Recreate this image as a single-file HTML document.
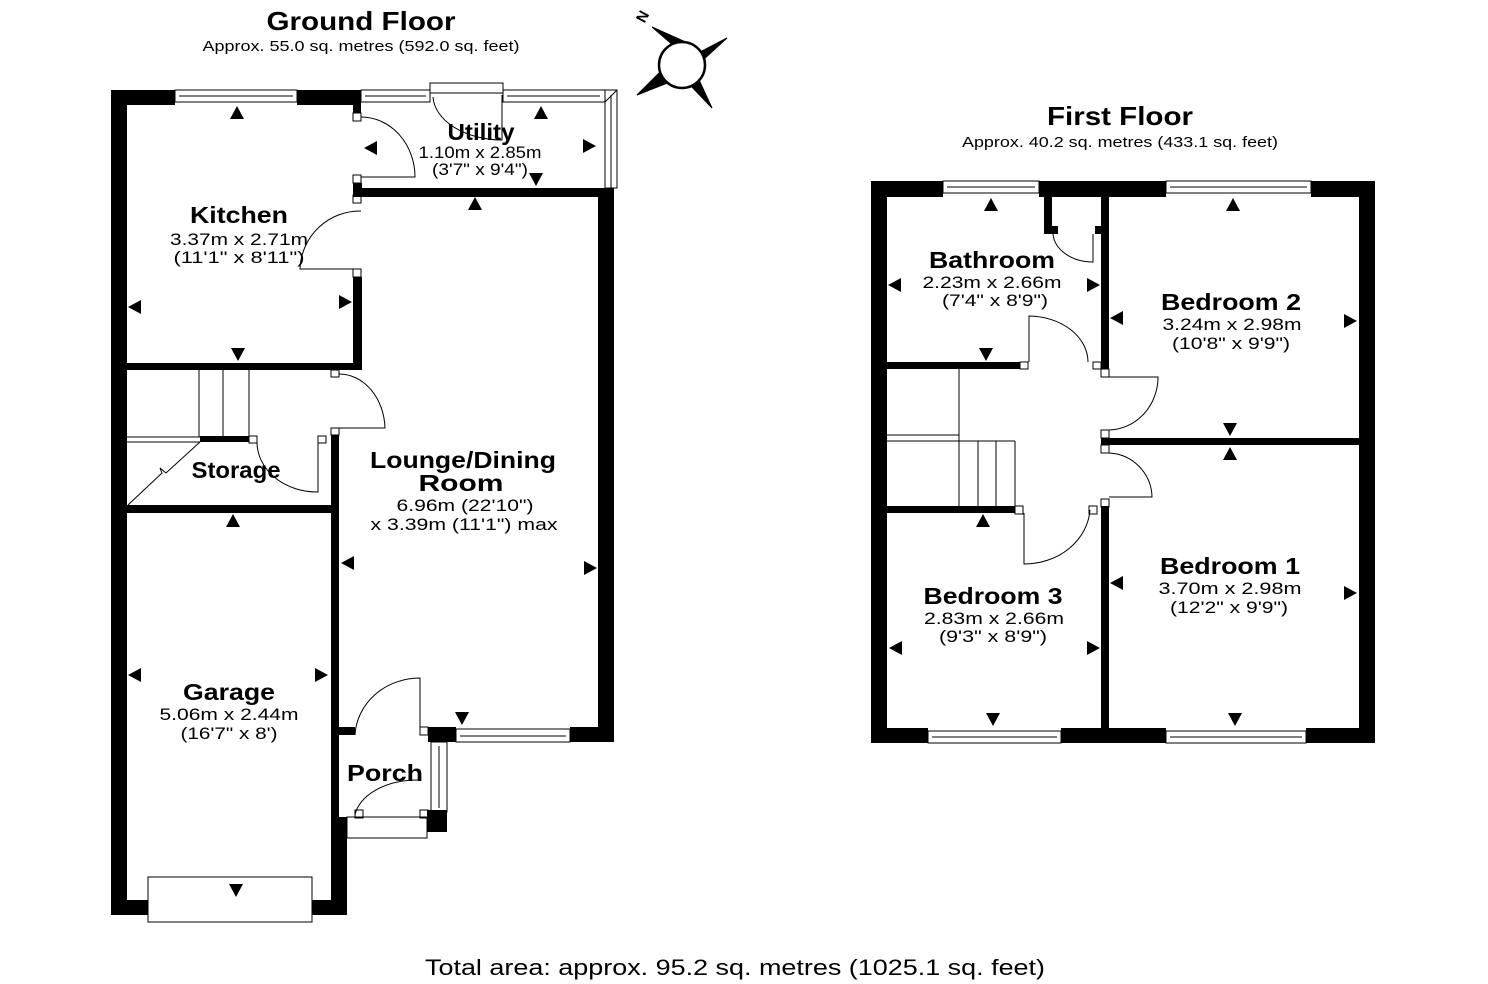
<!DOCTYPE html>
<html><head><meta charset="utf-8"><style>
html,body{margin:0;padding:0;background:#fff;}
svg{display:block;}
text{font-family:"Liberation Sans",Arial,sans-serif;fill:#000;}
.t{font-weight:bold;font-size:23px;}
.s{font-size:16.5px;}
.h{font-weight:bold;font-size:26px;}
.a{font-size:15px;}
</style></head><body>
<svg width="1488" height="984" viewBox="0 0 1488 984" xmlns="http://www.w3.org/2000/svg">
<defs>
<polygon id="tu" points="-7,6 7,6 0,-7" fill="#000"/>
</defs>
<g fill="#000">
<rect x="111" y="90" width="16" height="825"/>
<rect x="111" y="90" width="64" height="15"/>
<rect x="297" y="90" width="64" height="15"/>
<rect x="353" y="105" width="8" height="8"/>
<rect x="353" y="183" width="9" height="12"/>
<rect x="353" y="277" width="9" height="93"/>
<rect x="127" y="363" width="235" height="7"/>
<rect x="353" y="188" width="261" height="9"/>
<rect x="598" y="188" width="16" height="554"/>
<rect x="200" y="436" width="49" height="6"/>
<rect x="331" y="435" width="8" height="300"/>
<rect x="127" y="505" width="212" height="8"/>
<rect x="339" y="817" width="8" height="98"/>
<rect x="331" y="735" width="8" height="180"/>
<rect x="111" y="900" width="37" height="15"/>
<rect x="312" y="900" width="35" height="15"/>
<rect x="428" y="727" width="28" height="15"/>
<rect x="570" y="727" width="44" height="15"/>
<rect x="427" y="810" width="20" height="22"/>
<rect x="339" y="727" width="16" height="8"/>
<rect x="871" y="181" width="16" height="562"/>
<rect x="1359" y="181" width="16" height="562"/>
<rect x="871" y="181" width="72" height="16"/>
<rect x="1039" y="181" width="127" height="16"/>
<rect x="1311" y="181" width="64" height="16"/>
<rect x="871" y="728" width="57" height="15"/>
<rect x="1061" y="728" width="105" height="15"/>
<rect x="1306" y="728" width="69" height="15"/>
<rect x="1044" y="197" width="8" height="37"/>
<rect x="1044" y="226" width="14" height="8"/>
<rect x="1095" y="226" width="7" height="8"/>
<rect x="1101" y="197" width="8" height="172"/>
<rect x="887" y="362" width="133" height="7"/>
<rect x="1101" y="438" width="258" height="7"/>
<rect x="887" y="506" width="128" height="7"/>
<rect x="1101" y="506" width="8" height="222"/>
</g>
<g fill="none" stroke="#000" stroke-width="1">
<rect x="175" y="90" width="122" height="12"/><line x1="179" y1="96" x2="293" y2="96"/>
<rect x="361" y="90" width="69" height="12"/><line x1="365" y1="96" x2="426" y2="96"/>
<rect x="430" y="83" width="73" height="10"/>
<rect x="503" y="90" width="102" height="12"/><line x1="507" y1="96" x2="600" y2="96"/>
<polyline points="605,90 617,90 617,188 605,188 605,102"/>
<line x1="611" y1="95" x2="611" y2="188"/><line x1="605" y1="102" x2="617" y2="90"/>
<rect x="456" y="729" width="114" height="13"/><line x1="460" y1="736" x2="566" y2="736"/>
<rect x="431" y="742" width="16" height="70"/><line x1="439" y1="746" x2="439" y2="808"/>
<rect x="347" y="817" width="80" height="21"/>
<rect x="148" y="877" width="164" height="45"/>
<rect x="353" y="113" width="8" height="8"/><rect x="353" y="175" width="8" height="8"/>
<path d="M361,117 A54,60 0 0 1 415,177 L361,177"/>
<path d="M502,95 L502,140 A70,45 0 0 1 433,97"/>
<rect x="353" y="195" width="8" height="8"/><rect x="353" y="269" width="8" height="8"/>
<path d="M361,211 A60,60 0 0 0 300,269 L361,269"/>
<rect x="331" y="370" width="8" height="7"/><rect x="331" y="428" width="8" height="7"/>
<path d="M339,374 A46,56 0 0 1 385,428 L339,428"/>
<rect x="249" y="436" width="8" height="7"/><rect x="318" y="436" width="8" height="7"/>
<path d="M257,442 A60,50 0 0 0 318,492 L318,442"/>
<line x1="199" y1="370" x2="199" y2="437"/><line x1="223" y1="370" x2="223" y2="437"/><line x1="249" y1="370" x2="249" y2="437"/>
<line x1="127" y1="437" x2="200" y2="437"/><line x1="127" y1="442" x2="200" y2="442"/>
<polyline points="128,505 162,473 160,468 166,473 200,442"/>
<path d="M355,735 A65,60 0 0 1 420,678 L420,735"/>
<rect x="420" y="727" width="8" height="8"/>
<rect x="355" y="810" width="8" height="8"/><rect x="420" y="810" width="8" height="8"/>
<path d="M355,815 A63,40 0 0 1 418,780"/>
<rect x="943" y="181" width="96" height="12"/><line x1="947" y1="187" x2="1035" y2="187"/>
<rect x="1166" y="181" width="145" height="12"/><line x1="1170" y1="187" x2="1307" y2="187"/>
<rect x="928" y="731" width="133" height="12"/><line x1="932" y1="737" x2="1057" y2="737"/>
<rect x="1166" y="731" width="140" height="12"/><line x1="1170" y1="737" x2="1302" y2="737"/>
<path d="M1053,234 A40,30 0 0 0 1093,262 L1093,234"/>
<rect x="1020" y="362" width="8" height="7"/><rect x="1093" y="362" width="8" height="7"/>
<path d="M1029,362 L1029,316 A60,46 0 0 1 1088,362"/>
<rect x="1101" y="369" width="8" height="8"/><rect x="1101" y="430" width="8" height="8"/>
<path d="M1109,377 L1158,377 A50,53 0 0 1 1109,430"/>
<rect x="1101" y="445" width="8" height="8"/><rect x="1101" y="499" width="8" height="8"/>
<path d="M1109,453 A45,45 0 0 1 1152,497 L1109,497"/>
<rect x="1015" y="506" width="8" height="8"/><rect x="1089" y="506" width="8" height="8"/>
<path d="M1024,513 L1024,564 A66,58 0 0 0 1090,510"/>
<line x1="959" y1="369" x2="959" y2="506"/>
<line x1="887" y1="435" x2="959" y2="435"/><line x1="887" y1="441" x2="1015" y2="441"/>
<line x1="978" y1="441" x2="978" y2="506"/><line x1="996" y1="441" x2="996" y2="506"/><line x1="1015" y1="441" x2="1015" y2="506"/>
</g>
<use href="#tu" transform="translate(237,113)"/>
<use href="#tu" transform="translate(238,354) rotate(180)"/>
<use href="#tu" transform="translate(135,307) rotate(-90)"/>
<use href="#tu" transform="translate(345,302) rotate(90)"/>
<use href="#tu" transform="translate(371,148) rotate(-90)"/>
<use href="#tu" transform="translate(541,113)"/>
<use href="#tu" transform="translate(589,146) rotate(90)"/>
<use href="#tu" transform="translate(536,179) rotate(180)"/>
<use href="#tu" transform="translate(475,204)"/>
<use href="#tu" transform="translate(348,563) rotate(-90)"/>
<use href="#tu" transform="translate(590,568) rotate(90)"/>
<use href="#tu" transform="translate(462,718) rotate(180)"/>
<use href="#tu" transform="translate(233,521)"/>
<use href="#tu" transform="translate(135,675) rotate(-90)"/>
<use href="#tu" transform="translate(321,675) rotate(90)"/>
<use href="#tu" transform="translate(236,890) rotate(180)"/>
<use href="#tu" transform="translate(991,205)"/>
<use href="#tu" transform="translate(986,354) rotate(180)"/>
<use href="#tu" transform="translate(895,285) rotate(-90)"/>
<use href="#tu" transform="translate(1093,285) rotate(90)"/>
<use href="#tu" transform="translate(1233,205)"/>
<use href="#tu" transform="translate(1117,318) rotate(-90)"/>
<use href="#tu" transform="translate(1350,321) rotate(90)"/>
<use href="#tu" transform="translate(1230,429) rotate(180)"/>
<use href="#tu" transform="translate(1230,454)"/>
<use href="#tu" transform="translate(1117,583) rotate(-90)"/>
<use href="#tu" transform="translate(1350,593) rotate(90)"/>
<use href="#tu" transform="translate(1235,719) rotate(180)"/>
<use href="#tu" transform="translate(983,521)"/>
<use href="#tu" transform="translate(896,648) rotate(-90)"/>
<use href="#tu" transform="translate(1093,648) rotate(90)"/>
<use href="#tu" transform="translate(993,719) rotate(180)"/>
<g stroke="#000" stroke-width="1">
<polygon points="652,27 675,47 690,44" fill="#000"/>
<polygon points="727,38 700,52 703,60" fill="#000"/>
<polygon points="637,95 662,70 670,82" fill="#000"/>
<polygon points="712,108 690,85 700,82" fill="#000"/>
<circle cx="682" cy="65" r="23" fill="#fff" stroke-width="2.5"/>
</g>
<text x="0" y="0" transform="translate(647,19) rotate(-62)" style="font-weight:bold;font-size:15px" text-anchor="middle">N</text>
<text class="h" x="361" y="30" text-anchor="middle" textLength="189" lengthAdjust="spacingAndGlyphs">Ground Floor</text>
<text class="a" x="361" y="51" text-anchor="middle" textLength="317" lengthAdjust="spacingAndGlyphs">Approx. 55.0 sq. metres (592.0 sq. feet)</text>
<text class="h" x="1120" y="125" text-anchor="middle" textLength="146" lengthAdjust="spacingAndGlyphs">First Floor</text>
<text class="a" x="1120" y="147" text-anchor="middle" textLength="316" lengthAdjust="spacingAndGlyphs">Approx. 40.2 sq. metres (433.1 sq. feet)</text>
<text class="t" x="481" y="140" text-anchor="middle" textLength="67" lengthAdjust="spacingAndGlyphs">Utility</text>
<text class="s" x="480" y="158" text-anchor="middle" textLength="123" lengthAdjust="spacingAndGlyphs">1.10m x 2.85m</text>
<text class="s" x="480" y="175" text-anchor="middle" textLength="96" lengthAdjust="spacingAndGlyphs">(3'7" x 9'4")</text>
<text class="t" x="239" y="223" text-anchor="middle" textLength="98" lengthAdjust="spacingAndGlyphs">Kitchen</text>
<text class="s" x="239" y="245" text-anchor="middle" textLength="138" lengthAdjust="spacingAndGlyphs">3.37m x 2.71m</text>
<text class="s" x="239" y="263" text-anchor="middle" textLength="131" lengthAdjust="spacingAndGlyphs">(11'1" x 8'11")</text>
<text class="t" x="236" y="478" text-anchor="middle" textLength="89" lengthAdjust="spacingAndGlyphs">Storage</text>
<text class="t" x="463" y="468" text-anchor="middle" textLength="186" lengthAdjust="spacingAndGlyphs">Lounge/Dining</text>
<text class="t" x="461" y="491" text-anchor="middle" textLength="85" lengthAdjust="spacingAndGlyphs">Room</text>
<text class="s" x="465" y="511" text-anchor="middle" textLength="137" lengthAdjust="spacingAndGlyphs">6.96m (22'10")</text>
<text class="s" x="464" y="530" text-anchor="middle" textLength="187" lengthAdjust="spacingAndGlyphs">x 3.39m (11'1") max</text>
<text class="t" x="229" y="700" text-anchor="middle" textLength="92" lengthAdjust="spacingAndGlyphs">Garage</text>
<text class="s" x="229" y="720" text-anchor="middle" textLength="139" lengthAdjust="spacingAndGlyphs">5.06m x 2.44m</text>
<text class="s" x="229" y="739" text-anchor="middle" textLength="97" lengthAdjust="spacingAndGlyphs">(16'7" x 8')</text>
<text class="t" x="385" y="781" text-anchor="middle" textLength="76" lengthAdjust="spacingAndGlyphs">Porch</text>
<text class="t" x="992" y="268" text-anchor="middle" textLength="126" lengthAdjust="spacingAndGlyphs">Bathroom</text>
<text class="s" x="992" y="288" text-anchor="middle" textLength="139" lengthAdjust="spacingAndGlyphs">2.23m x 2.66m</text>
<text class="s" x="995" y="306" text-anchor="middle" textLength="106" lengthAdjust="spacingAndGlyphs">(7'4" x 8'9")</text>
<text class="t" x="1231" y="310" text-anchor="middle" textLength="140" lengthAdjust="spacingAndGlyphs">Bedroom 2</text>
<text class="s" x="1232" y="330" text-anchor="middle" textLength="139" lengthAdjust="spacingAndGlyphs">3.24m x 2.98m</text>
<text class="s" x="1231" y="349" text-anchor="middle" textLength="118" lengthAdjust="spacingAndGlyphs">(10'8" x 9'9")</text>
<text class="t" x="1230" y="574" text-anchor="middle" textLength="140" lengthAdjust="spacingAndGlyphs">Bedroom 1</text>
<text class="s" x="1230" y="594" text-anchor="middle" textLength="143" lengthAdjust="spacingAndGlyphs">3.70m x 2.98m</text>
<text class="s" x="1229" y="613" text-anchor="middle" textLength="118" lengthAdjust="spacingAndGlyphs">(12'2" x 9'9")</text>
<text class="t" x="993" y="604" text-anchor="middle" textLength="139" lengthAdjust="spacingAndGlyphs">Bedroom 3</text>
<text class="s" x="994" y="624" text-anchor="middle" textLength="140" lengthAdjust="spacingAndGlyphs">2.83m x 2.66m</text>
<text class="s" x="993" y="642" text-anchor="middle" textLength="108" lengthAdjust="spacingAndGlyphs">(9'3" x 8'9")</text>
<text x="735" y="975" text-anchor="middle" style="font-size:22px" textLength="620" lengthAdjust="spacingAndGlyphs">Total area: approx. 95.2 sq. metres (1025.1 sq. feet)</text>
</svg>
</body></html>
